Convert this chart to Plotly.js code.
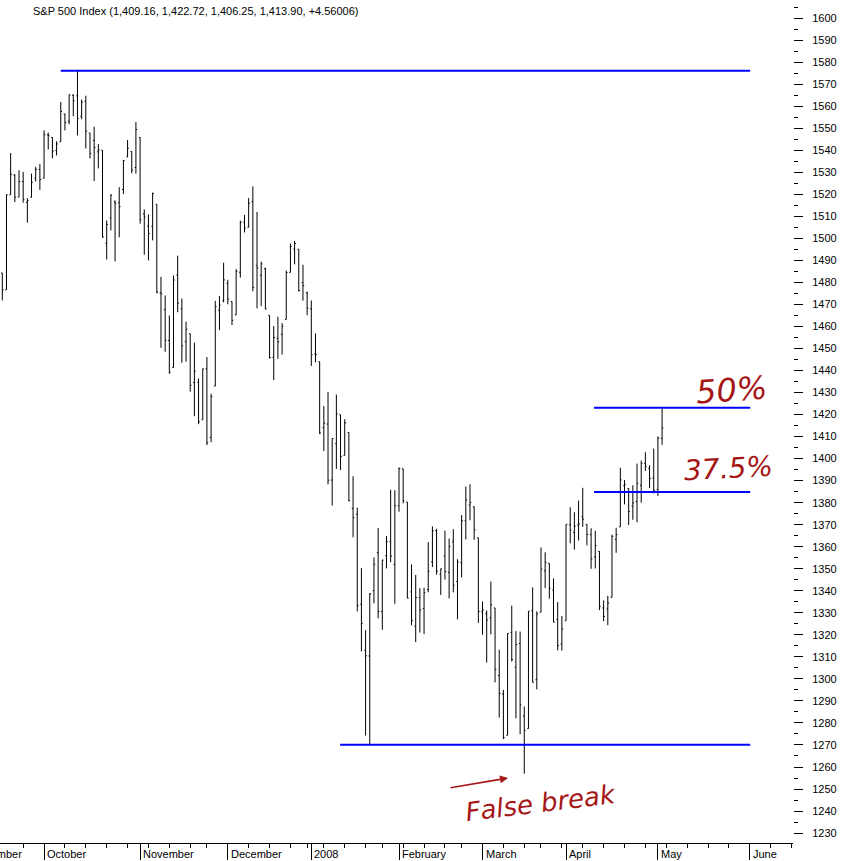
<!DOCTYPE html>
<html>
<head>
<meta charset="utf-8">
<script src="https://cdn.plot.ly/plotly-3.0.1.min.js"></script>
<style>html,body{margin:0;padding:0;background:#fff;}#chart{width:841px;height:861px;}</style>
</head>
<body>
<div id="chart"></div>
<script>
// ---------- DATA (S&P 500 daily OHLC, 17 Sep 2007 – 2 May 2008) ----------
const firstDay = '2007-09-17';
const lastProjectedDay = '2008-06-20';
const holidays = ['2007-11-22', '2007-12-25', '2008-01-01', '2008-01-21', '2008-02-18', '2008-03-21'];

const opens = [
1484.24,1476.63,1519.75,1528.69,1518.75,1525.75,1516.34,1518.62,1527.32,1531.24,
1527.29,1546.96,1545.80,1539.91,1543.84,1556.51,1553.18,1564.98,1564.72,1555.41,1562.25,1547.81,1544.44,1539.29,1540.00,1497.79,1509.30,1516.61,1516.15,1522.17,1536.92,1539.42,1532.15,
1545.79,1511.07,1505.61,1505.33,1515.46,1475.27,1467.59,1453.66,1441.35,1483.40,1468.04,1453.09,1456.70,1434.51,1434.71,1417.62,1440.74,1409.59,1432.95,1467.41,1471.83,
1479.63,1471.34,1465.22,1484.59,1507.34,1505.11,1516.68,1487.58,1483.27,1486.19,1465.05,1445.92,1454.70,1456.42,1463.19,1484.55,1495.12,1495.05,1479.83,1475.25,
1467.97,1447.55,1444.01,1414.07,1415.71,1390.25,1406.78,1419.91,1401.46,1411.88,1377.41,1374.79,1333.90,1312.94,1310.41,1340.13,1357.32,1330.70,1355.94,1362.22,1351.98,
1378.60,1395.38,1380.28,1339.48,1324.01,1336.88,1331.92,1340.55,1353.12,1367.33,1347.52,1355.86,1348.39,1362.21,1344.22,1352.75,1371.76,1378.95,1378.16,1364.07,
1330.45,1329.58,1327.69,1332.20,1301.53,1293.16,1274.40,1321.13,1305.26,1316.05,1283.21,1277.41,1330.97,1299.67,1330.29,1349.07,1352.45,1340.34,1327.02,1315.92,
1326.41,1369.96,1366.47,1369.85,1373.69,1370.16,1365.50,1355.37,1357.98,1332.20,1331.72,1337.02,1363.37,1369.00,1387.72,1386.43,1378.40,1380.52,1387.88,1397.96,1395.61,1391.22,
1385.97,1409.16];

const highs = [
1484.24,1519.89,1538.74,1529.14,1530.89,1530.18,1518.27,1529.39,1532.46,1533.74,
1549.02,1548.01,1545.84,1544.02,1561.91,1556.51,1565.26,1565.42,1576.09,1563.03,1564.74,1547.81,1550.66,1542.79,1540.00,1508.06,1520.01,1517.23,1523.24,1535.53,1544.67,1539.42,1552.76,
1545.79,1513.15,1510.84,1520.77,1515.46,1482.50,1474.09,1464.94,1483.16,1492.14,1472.67,1462.18,1456.70,1452.64,1436.40,1440.86,1446.09,1429.49,1471.62,1473.81,1488.94,
1481.16,1471.34,1486.09,1508.02,1510.63,1518.27,1523.57,1511.96,1489.40,1486.67,1465.05,1460.16,1464.42,1461.53,1485.40,1497.63,1498.85,1495.05,1488.01,1475.83,
1471.77,1456.80,1444.01,1423.87,1430.28,1409.19,1429.09,1419.91,1417.89,1411.88,1391.99,1377.72,1350.28,1322.09,1339.02,1355.15,1368.56,1353.97,1364.93,1385.86,1385.62,
1396.02,1395.38,1380.28,1351.96,1347.16,1341.22,1341.40,1362.10,1369.23,1368.16,1350.00,1367.28,1363.71,1367.94,1354.30,1374.36,1387.34,1388.34,1378.16,1364.07,
1335.13,1331.03,1344.19,1332.20,1313.24,1295.01,1320.65,1333.26,1321.68,1321.47,1287.50,1330.74,1341.51,1330.67,1359.68,1357.47,1352.45,1345.62,1334.87,1328.52,
1370.18,1377.95,1375.66,1380.91,1386.74,1370.16,1368.39,1367.24,1357.98,1335.64,1337.72,1365.49,1368.60,1395.90,1390.23,1386.43,1387.87,1397.72,1399.11,1402.90,1397.00,1404.57,
1410.07,1422.72];

const lows = [
1471.82,1476.63,1519.75,1516.42,1518.75,1516.15,1507.13,1518.62,1525.81,1521.99,
1527.25,1540.37,1536.34,1537.63,1543.84,1549.00,1551.82,1555.46,1546.72,1554.09,1540.81,1536.29,1526.01,1531.76,1500.26,1490.40,1503.61,1489.56,1500.46,1520.09,1536.92,1529.55,1529.40,
1506.66,1492.53,1489.95,1499.07,1475.04,1450.31,1448.51,1438.53,1441.35,1466.47,1443.49,1443.99,1430.42,1419.28,1415.64,1417.62,1406.10,1407.43,1432.95,1458.36,1470.89,
1470.08,1460.66,1465.22,1482.19,1502.66,1504.96,1475.99,1468.23,1469.21,1467.78,1445.43,1435.65,1445.31,1447.22,1463.19,1484.55,1488.20,1475.86,1471.70,1465.13,
1442.07,1443.73,1411.19,1403.45,1388.30,1378.70,1395.31,1394.83,1401.46,1380.60,1364.27,1330.67,1312.51,1274.29,1270.05,1334.31,1327.50,1322.26,1350.19,1352.95,1334.08,
1375.93,1379.69,1336.64,1324.34,1316.75,1321.06,1320.32,1339.36,1350.78,1347.31,1338.13,1345.05,1336.55,1339.34,1327.04,1346.03,1363.29,1372.00,1363.16,1325.42,
1320.04,1307.39,1320.22,1298.42,1282.43,1272.66,1274.40,1307.86,1282.11,1274.86,1256.98,1277.41,1298.42,1295.22,1330.29,1341.21,1336.41,1325.66,1312.95,1312.81,
1326.41,1361.55,1358.68,1362.83,1369.02,1360.62,1349.97,1350.11,1331.21,1326.16,1324.35,1337.02,1357.25,1369.00,1379.25,1369.84,1372.24,1371.09,1379.98,1394.40,1386.70,1384.25,
1383.07,1406.25];

const closes = [
1476.65,1519.78,1529.03,1518.75,1525.75,1517.73,1517.21,1525.42,1531.38,1526.75,
1547.04,1546.63,1539.59,1542.84,1557.59,1552.58,1565.15,1562.47,1554.41,1561.80,1548.71,1538.53,1541.24,1540.08,1500.63,1506.33,1519.59,1515.88,1514.40,1535.28,1540.98,1531.02,1549.38,
1508.44,1509.65,1502.17,1520.27,1475.62,1474.77,1453.70,1439.18,1481.05,1470.58,1451.15,1458.74,1433.27,1439.70,1416.77,1440.70,1407.22,1428.23,1469.02,1469.72,1481.14,
1472.42,1462.79,1485.01,1507.34,1504.66,1515.96,1477.65,1486.59,1488.41,1467.95,1445.90,1454.98,1453.00,1460.12,1484.46,1496.45,1497.66,1476.27,1478.49,1468.36,
1447.16,1447.16,1411.63,1416.18,1390.19,1409.13,1420.33,1401.02,1416.25,1380.95,1373.20,1333.25,1325.19,1310.50,1338.60,1352.07,1330.61,1353.96,1362.30,1355.81,1378.55,
1395.42,1380.82,1336.64,1326.45,1336.91,1331.29,1339.13,1348.86,1367.21,1348.86,1349.99,1348.78,1360.03,1342.53,1353.11,1371.80,1381.29,1380.02,1367.68,1330.63,
1331.34,1326.75,1333.70,1304.34,1293.37,1273.37,1320.65,1308.77,1315.48,1288.14,1276.60,1330.74,1298.42,1329.51,1349.88,1352.99,1341.13,1325.76,1315.22,1322.70,
1370.18,1367.53,1369.31,1370.40,1372.54,1365.54,1354.49,1360.55,1332.83,1328.32,1334.43,1364.71,1365.56,1390.33,1388.17,1375.94,1379.93,1388.82,1397.84,1396.37,1390.94,1385.59,
1409.34,1413.90];

const monthNames = ['January','February','March','April','May','June','July','August','September','October','November','December'];
const chartTitle = 'S&P 500 Index (1,409.16, 1,422.72, 1,406.25, 1,413.90, +4.56006)';

// Drawn trend / retracement lines (levels)
const swingHigh = 1576.09;
const swingLow = 1270.05;
const retracements = [0.5, 0.375];
const lineStartDay = [14, 141.7, 141.7, 80.9];
const lineEndDay = [179.1, 179.1, 179.1, 179.1];

// Hand-written notes
const noteTexts = ['50%', '37.5%', 'False break'];
const noteDay = [174.6, 173.8, 129.0];
const notePrice = [1431.0, 1395.7, 1243.6];

// ---------- trading-day calendar ----------
function iso(d){ return d.toISOString().slice(0,10); }
const days = [];
{
  const d = new Date(firstDay + 'T00:00:00Z');
  const end = new Date(lastProjectedDay + 'T00:00:00Z');
  while (d <= end) {
    const wd = d.getUTCDay();
    const s = iso(d);
    if (wd !== 0 && wd !== 6 && holidays.indexOf(s) < 0) days.push(s);
    d.setUTCDate(d.getUTCDate() + 1);
  }
}
const idx = opens.map((_, i) => i);

// month starts and week starts (in trading-day index)
const monthStarts = [], monthLabels = [], weekStarts = [];
days.forEach((s, i) => {
  if (i === 0) return;
  const prev = days[i-1];
  if (s.slice(5,7) !== prev.slice(5,7)) {
    monthStarts.push(i);
    const m = parseInt(s.slice(5,7),10) - 1;
    monthLabels.push(m === 0 ? s.slice(0,4) : monthNames[m]);
  }
  const dp = new Date(prev + 'T00:00:00Z'), dc = new Date(s + 'T00:00:00Z');
  if (dc.getUTCDay() <= dp.getUTCDay()) weekStarts.push(i);
});
// September start (3 Sep 2007 Labor Day -> 4 Sep), 9 trading days before the first bar
const septStart = -9;
const allMonthStarts = [septStart].concat(monthStarts);
const allMonthLabels = ['September'].concat(monthLabels);

const X_RANGE = [-0.55, 189.35];
const toPaperX = v => (v - X_RANGE[0]) / (X_RANGE[1] - X_RANGE[0]);

const FONT = 'Liberation Sans, Arial, sans-serif';
const RED = '#a51616';

const traces = [{
  type: 'ohlc',
  x: idx, open: opens, high: highs, low: lows, close: closes,
  increasing: {line: {color: '#000000', width: 1}},
  decreasing: {line: {color: '#000000', width: 1}},
  tickwidth: 0.3,
  hoverinfo: 'skip',
  showlegend: false
}];

const levels = [swingHigh].concat(retracements.map(r => swingLow + r * (swingHigh - swingLow))).concat([swingLow]);
levels.forEach((lv, k) => {
  traces.push({
    type: 'scatter', mode: 'lines',
    x: [lineStartDay[k], lineEndDay[k]], y: [lv, lv],
    line: {color: '#0000ff', width: 2},
    hoverinfo: 'skip', showlegend: false, cliponaxis: false
  });
});

const annotations = [];
allMonthStarts.forEach((m, k) => {
  annotations.push({
    x: toPaperX(m), xref: 'paper', y: 0, yref: 'paper',
    text: allMonthLabels[k], showarrow: false,
    xanchor: 'left', yanchor: 'top', xshift: 1, yshift: -3,
    font: {family: FONT, size: 11, color: '#000'}
  });
});
const noteSizes = [32, 28, 26];
const noteAngles = [-4, -3, -7];
noteTexts.forEach((t, k) => {
  annotations.push({
    x: noteDay[k], xref: 'x', y: notePrice[k], yref: 'y',
    text: t, showarrow: false, textangle: noteAngles[k],
    font: {family: 'DejaVu Sans, sans-serif', size: noteSizes[k], color: RED, style: 'italic'}
  });
});
// arrow pointing to the false break
annotations.push({
  x: 121.1, xref: 'x', y: 1255.0, yref: 'y', ax: -59, ay: 10,
  text: '', showarrow: true, arrowhead: 2, arrowsize: 1, arrowwidth: 1.6, arrowcolor: RED
});

const layout = {
  width: 841, height: 861,
  margin: {l: 0, r: 48, t: 0, b: 18, pad: 0},
  paper_bgcolor: '#ffffff', plot_bgcolor: '#ffffff',
  hovermode: false,
  title: {
    text: chartTitle, x: 33/841, xanchor: 'left', xref: 'container',
    y: 1 - 11/861, yanchor: 'middle', yref: 'container',
    font: {family: FONT, size: 11, color: '#000'}
  },
  xaxis: {
    range: X_RANGE,
    rangeslider: {visible: false},
    showline: true, linecolor: '#000', linewidth: 1,
    showgrid: false, zeroline: false,
    tickmode: 'array', tickvals: monthStarts, showticklabels: false,
    ticks: 'outside', ticklen: 16, tickwidth: 1, tickcolor: '#000',
    minor: {tickmode: 'array', tickvals: weekStarts, ticks: 'outside', ticklen: 4, tickwidth: 1, tickcolor: '#000', showgrid: false},
    fixedrange: true
  },
  yaxis: {
    side: 'right',
    range: [1225.5, 1608.2],
    tickmode: 'linear', tick0: 1230, dtick: 10,
    ticks: 'outside', ticklen: 9, tickwidth: 1, tickcolor: '#000',
    minor: {tickmode: 'linear', tick0: 1225, dtick: 5, ticks: 'outside', ticklen: 4, tickwidth: 1, tickcolor: '#000', showgrid: false},
    showline: false, showgrid: false, zeroline: false,
    ticklabelstandoff: 7,
    tickfont: {family: FONT, size: 11, color: '#000'},
    fixedrange: true
  },
  annotations: annotations
};

Plotly.newPlot('chart', traces, layout, {displayModeBar: false, staticPlot: true});
</script>
</body>
</html>
